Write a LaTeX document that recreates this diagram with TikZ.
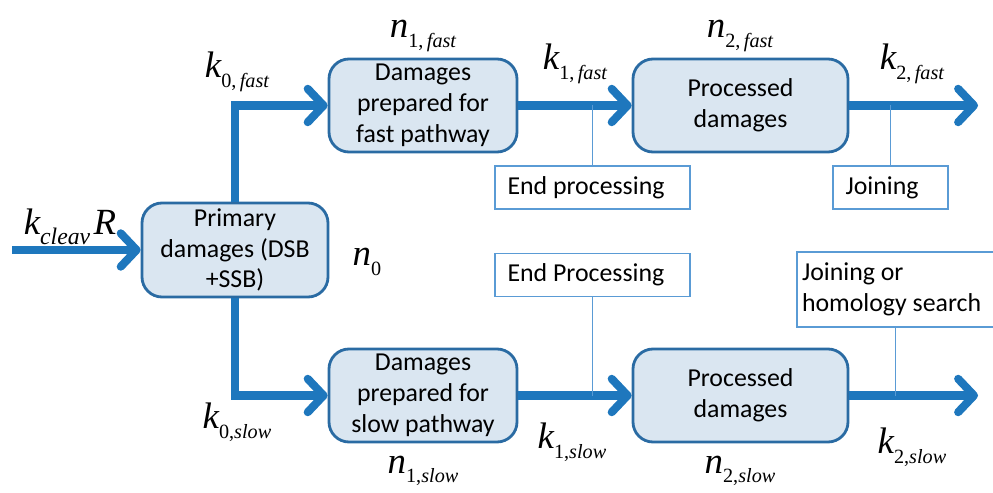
\documentclass[tikz,border=0pt]{standalone}
\usepackage{fontspec}
\setmainfont{Carlito}
\newfontfamily\tms{Liberation Serif}
\usetikzlibrary{arrows.meta, positioning, calc}
\definecolor{flowblue}{HTML}{1E77BD}
\definecolor{boxfill}{HTML}{DAE6F1}
\definecolor{boxline}{HTML}{2A6BA3}
\definecolor{noteline}{HTML}{5A9BD5}

% letter with a lowered subscript
\newcommand{\rate}[4][11.5]{{\tms\itshape #2}\raisebox{-5.5pt}{\fontsize{#1}{12}\selectfont\tms #3\itshape #4}}

\tikzset{
  dmgbox/.style={draw=boxline, fill=boxfill, line width=1.6pt, rounded corners=0.4cm,
    minimum width=3.76cm, minimum height=1.86cm, align=flush center, inner sep=1pt,
    font=\fontsize{14.7}{17.5}\selectfont},
  notebox/.style={draw=noteline, fill=white, line width=0.6pt, minimum height=0.86cm,
    align=flush left, inner xsep=0.25cm, font=\fontsize{14.7}{17.5}\selectfont},
  flow/.style={draw=flowblue, line width=4.6pt, -{Straight Barb[length=9pt, width=19pt, round]}},
  tap/.style={draw=noteline, line width=0.6pt},
  ratelbl/.style={font=\fontsize{21}{22}\selectfont}
}

\begin{document}
\begin{tikzpicture}
  \useasboundingbox (0,0) rectangle (19.86,9.84);

  % Boxes
  \node[dmgbox, minimum width=3.72cm, minimum height=1.88cm] (prim) at (4.70,4.84) {Primary\\damages (DSB\\+SSB)};
  \node[dmgbox] (dfast) at (8.46,7.73) {Damages\\prepared for\\fast pathway};
  \node[dmgbox, minimum width=4.30cm] (pfast) at (14.81,7.73) {Processed\\damages};
  \node[dmgbox] (dslow) at (8.46,1.93) {Damages\\prepared for\\slow pathway};
  \node[dmgbox, minimum width=4.30cm] (pslow) at (14.81,1.93) {Processed\\damages};

  % Notes
  \node[notebox, text width=3.4cm] (endfast) at (11.85,6.09) {End processing};
  \node[notebox, text width=3.4cm] (endslow) at (11.85,4.34) {End Processing};
  \node[notebox, text width=1.8cm] (joinfast) at (17.81,6.09) {Joining};
  \node[notebox, text width=3.75cm, inner xsep=0.1cm, minimum height=1.5cm] (joinslow) at (17.915,4.05) {Joining or\\homology search};

  % Free ends
  \coordinate (src) at (0.24,4.84);
  \coordinate (outfast) at (19.56,7.73);
  \coordinate (outslow) at (19.56,1.93);

  % Thick flows
  \draw[flow] (src) -- (prim.west);
  \draw[flow] (prim.north) |- (dfast.west);
  \draw[flow] (prim.south) |- (dslow.west);
  \draw[flow] (dfast.east) -- (pfast.west);
  \draw[flow] (dslow.east) -- (pslow.west);
  \draw[flow] (pfast.east) -- (outfast);
  \draw[flow] (pslow.east) -- (outslow);

  % Thin links to notes
  \draw[tap] (endfast.north) -- (endfast.north |- dfast.east);
  \draw[tap] (endslow.south) -- (endslow.south |- dslow.east);
  \draw[tap] (joinfast.north) -- (joinfast.north |- pfast.east);
  \draw[tap] (joinslow.south) -- (joinslow.south |- pslow.east);

  % Rates and populations
  \node[ratelbl] (kin) at (1.40,5.30) {\rate[13.5]{k}{}{cleav}\kern2pt{\tms\itshape R}};
  \node[ratelbl] (k0f) at (4.74,8.40) {\rate{k}{0,\,}{fast}};
  \node[ratelbl] (n1f) at (8.46,9.12) {\rate{n}{1,\,}{fast}};
  \node[ratelbl] (k1f) at (11.50,8.56) {\rate{k}{1,\,}{fast}};
  \node[ratelbl] (n2f) at (14.80,9.12) {\rate{n}{2,\,}{fast}};
  \node[ratelbl] (k2f) at (18.24,8.56) {\rate{k}{2,\,}{fast}};
  \node[ratelbl] (n0) at (7.34,4.60) {\rate{n}{0}{}};
  \node[ratelbl] (k0s) at (4.74,1.40) {\rate{k}{0,}{slow}};
  \node[ratelbl] (k1s) at (11.44,1.00) {\rate{k}{1,}{slow}};
  \node[ratelbl] (n1s) at (8.46,0.42) {\rate{n}{1,}{slow}};
  \node[ratelbl] (n2s) at (14.80,0.42) {\rate{n}{2,}{slow}};
  \node[ratelbl] (k2s) at (18.24,0.90) {\rate{k}{2,}{slow}};
\end{tikzpicture}
\end{document}
